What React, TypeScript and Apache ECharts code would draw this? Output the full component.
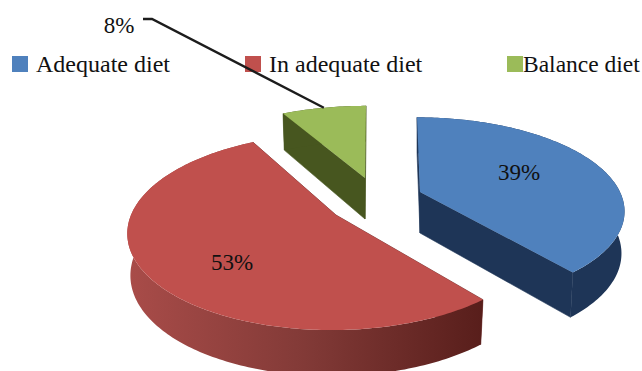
import React, { useEffect, useRef } from "react";
import * as echarts from "echarts";

const categories = ["Adequate diet", "In adequate diet", "Balance diet"];
const shares = [39, 53, 8];

const topColors = ["#4f81bd", "#c0504d", "#9bbb59"];
const SERIF = '"Liberation Serif", "Times New Roman", serif';

// Projected tilt of the pie: a circle viewed in perspective, with its wedges pulled apart.
const wedges = [
  { apex: [420, 192], rx: 200, ry: 89, k: 0.192, lean: 0.04, label: [519, 172] },
  { apex: [336, 215], rx: 205, ry: 95.5, k: 0.17, lean: -0.04, label: [232, 262] },
  { apex: [365, 178], rx: 201, ry: 86, k: 0.192, lean: -0.014, label: [119, 25] },
];
const wallFills: any[] = [
  "#1e3557",
  new echarts.graphic.LinearGradient(0, 0, 1, 0, [
    { offset: 0, color: "#a94c49" },
    { offset: 0.5, color: "#823a37" },
    { offset: 1, color: "#581e1b" },
  ]),
  "#47561f",
];
const cutFills = ["#1e3557", "#6b2a28", "#47561f"];

type Wedge = (typeof wedges)[number];

function project(theta: number, w: Wedge) {
  const u = Math.sin(theta);
  const v = -Math.cos(theta);
  const d = 1 - w.k * v;
  const y = (w.ry * v) / d;
  const x = (w.rx * u) / d + w.lean * y;
  return { x, y, v };
}

const topPoint = (theta: number, w: Wedge) => {
  const p = project(theta, w);
  return [w.apex[0] + p.x, w.apex[1] + p.y];
};

const basePoint = (theta: number, w: Wedge) => {
  const p = project(theta, w);
  return [w.apex[0] + p.x * 0.985, w.apex[1] + p.y + 41 + 5 * p.v];
};

function arc(a0: number, a1: number, at: (t: number) => number[]) {
  const steps = Math.max(8, Math.ceil(((a1 - a0) * 180) / Math.PI));
  const pts: number[][] = [];
  for (let i = 0; i <= steps; i++) pts.push(at(a0 + ((a1 - a0) * i) / steps));
  return pts;
}

function makeWedge(index: number) {
  const total = shares.reduce((s, v) => s + v, 0);
  const before = shares.slice(0, index).reduce((s, v) => s + v, 0);
  const w = wedges[index];

  return (_params: any, api: any) => {
    const value = api.value(0);
    const a0 = (before / total) * Math.PI * 2;
    const a1 = ((before + value) / total) * Math.PI * 2;
    const top = arc(a0, a1, (t) => topPoint(t, w));
    const base = arc(a0, a1, (t) => basePoint(t, w));
    const apexBase = [w.apex[0], w.apex[1] + 41];
    const cut = cutFills[index];

    const children: any[] = [
      {
        type: "polygon",
        shape: { points: [w.apex, top[0], base[0], apexBase] },
        style: { fill: cut, stroke: cut, lineWidth: 0.6 },
      },
      {
        type: "polygon",
        shape: { points: [w.apex, top[top.length - 1], base[base.length - 1], apexBase] },
        style: { fill: cut, stroke: cut, lineWidth: 0.6 },
      },
      {
        type: "polygon",
        shape: { points: [...top, ...base.slice().reverse()] },
        style: { fill: wallFills[index] },
      },
      {
        type: "polygon",
        shape: { points: [w.apex, ...top] },
        style: { fill: topColors[index] },
      },
      {
        type: "text",
        x: w.label[0],
        y: w.label[1],
        style: {
          text: `${value}%`,
          fill: "#111111",
          font: `23px ${SERIF}`,
          align: "center",
          verticalAlign: "middle",
        },
      },
    ];

    // The smallest share carries its label outside, on a leader line.
    if (index === 2) {
      const anchor = topPoint((a0 + a1) / 2, w);
      children.push({
        type: "polyline",
        shape: { points: [[143, 19], [152, 19], anchor] },
        style: { stroke: "#1c1c1c", lineWidth: 2.4, fill: "none" },
      });
    }
    return { type: "group", children };
  };
}

const legendLefts = [12, 245, 507];
const legendTextGaps = [3, 3, -5];
const legendFontSizes = [24, 24, 23.5];

export default function App() {
  const ref = useRef<HTMLDivElement>(null);

  useEffect(() => {
    const chart = echarts.init(ref.current!, undefined, { renderer: "svg" });
    chart.setOption({
      animation: false,
      backgroundColor: "#ffffff",
      legend: categories.map((name, i) => ({
        data: [name],
        left: legendLefts[i],
        top: 52,
        padding: 0,
        icon: "rect",
        itemWidth: 16,
        itemHeight: 16,
        z: 1,
        selectedMode: false,
        textStyle: {
          fontFamily: SERIF,
          fontSize: legendFontSizes[i],
          color: "#111111",
          padding: [0, 0, 0, legendTextGaps[i]],
        },
      })),
      series: categories.map((name, i) => ({
        type: "custom",
        name,
        coordinateSystem: "none",
        itemStyle: { color: topColors[i] },
        z: 2,
        data: [[shares[i]]],
        renderItem: makeWedge(i),
      })),
    });
    return () => chart.dispose();
  }, []);

  return (
    <div
      ref={ref}
      style={{ position: "absolute", left: 0, top: 0, width: 642, height: 371 }}
    />
  );
}
